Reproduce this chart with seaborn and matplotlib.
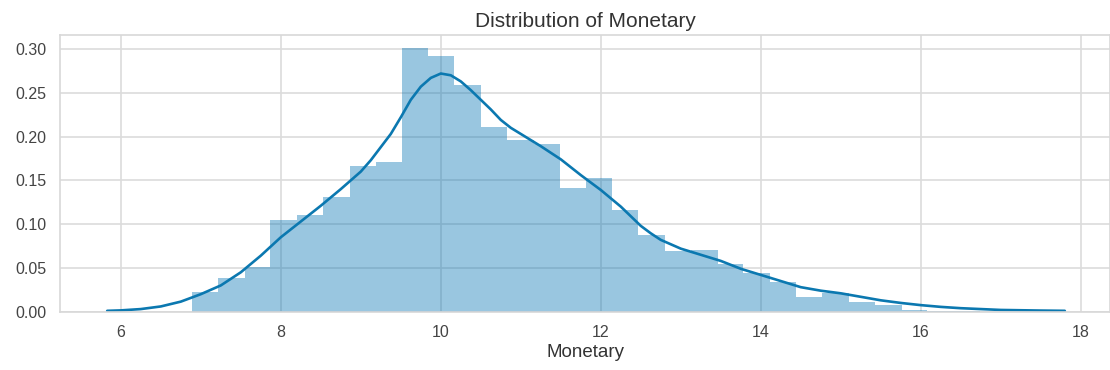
import matplotlib
matplotlib.use("Agg")
import matplotlib.pyplot as plt
import seaborn as sns
import numpy as np
import pandas as pd

# Histogram (density)
bin_edges = [6.89, 7.22, 7.55, 7.87, 8.20, 8.53, 8.86, 9.19, 9.52, 9.84, 10.17,
             10.50, 10.83, 11.16, 11.49, 11.81, 12.14, 12.47, 12.80, 13.13, 13.46,
             13.78, 14.11, 14.44, 14.77, 15.10, 15.43, 15.76, 16.08, 16.41, 16.74]
bin_heights = [0.022, 0.038, 0.051, 0.105, 0.110, 0.131, 0.166, 0.171, 0.301, 0.292,
               0.259, 0.211, 0.196, 0.192, 0.141, 0.153, 0.116, 0.088, 0.069, 0.071,
               0.055, 0.044, 0.034, 0.017, 0.021, 0.011, 0.008, 0.002, 0.001, 0.001]

# KDE curve
kde_x = [5.83, 6.0, 6.25, 6.5, 6.75, 7.0, 7.25, 7.5, 7.75, 8.0, 8.25, 8.5, 8.75,
         8.875, 9.0, 9.125, 9.25, 9.375, 9.5, 9.625, 9.75, 9.875, 10.0, 10.125,
         10.25, 10.375, 10.5, 10.625, 10.75, 10.875, 11.0, 11.25, 11.5, 11.75,
         12.0, 12.25, 12.375, 12.5, 12.625, 12.75, 12.875, 13.0, 13.25, 13.5,
         13.75, 14.0, 14.25, 14.5, 14.75, 15.0, 15.25, 15.5, 15.75, 16.0, 16.25,
         16.5, 17.0, 17.5, 17.8]
kde_y = [0.001, 0.0015, 0.003, 0.006, 0.0115, 0.020, 0.030, 0.045, 0.064, 0.085,
         0.103, 0.121, 0.140, 0.150, 0.160, 0.173, 0.188, 0.203, 0.222, 0.242,
         0.257, 0.267, 0.272, 0.270, 0.263, 0.253, 0.242, 0.231, 0.219, 0.210,
         0.203, 0.189, 0.174, 0.156, 0.139, 0.120, 0.109, 0.098, 0.0895, 0.082,
         0.077, 0.072, 0.065, 0.058, 0.049, 0.042, 0.035, 0.028, 0.024, 0.021,
         0.017, 0.013, 0.010, 0.0075, 0.0055, 0.004, 0.002, 0.0013, 0.001]

title = "Distribution of Monetary"
xlabel = "Monetary"

sns.set_style("whitegrid", {"grid.color": "#dcdcdc", "axes.edgecolor": "#d0d0d0"})
plt.rcParams["font.family"] = ["Liberation Sans", "DejaVu Sans"]

fig = plt.figure(figsize=(11.1, 3.7), dpi=100)
ax = fig.add_axes([60 / 1110, 1 - 311.7 / 370, 1 - 60 / 1110, (311.7 - 35) / 370])

centers = [(a + b) / 2 for a, b in zip(bin_edges[:-1], bin_edges[1:])]
hist_df = pd.DataFrame({"x": centers, "w": bin_heights})
sns.histplot(data=hist_df, x="x", weights="w", bins=bin_edges, stat="count",
             color="#0072B2", alpha=0.4, edgecolor="none", linewidth=0,
             antialiased=False, ax=ax)

kde_df = pd.DataFrame({"x": kde_x, "y": kde_y})
sns.lineplot(data=kde_df, x="x", y="y", color="#0b78b0", linewidth=1.9, ax=ax)

ax.set_xlim(5.24, 18.365)
ax.set_ylim(0, 0.316)
ax.set_xticks([6, 8, 10, 12, 14, 16, 18])
ax.set_yticks([0.0, 0.05, 0.10, 0.15, 0.20, 0.25, 0.30])
ax.set_yticklabels(["0.00", "0.05", "0.10", "0.15", "0.20", "0.25", "0.30"])
ax.tick_params(labelsize=11.5, colors="#333333", pad=6)
for lab in ax.get_xticklabels() + ax.get_yticklabels():
    lab.set_color("#444444")
ax.set_xlabel(xlabel, fontsize=13.5, color="#333333", labelpad=3)
ax.set_ylabel("")
ax.set_title(title, fontsize=15, color="#333333", pad=6)
ax.grid(True, color="#dcdcdc", linewidth=1.2)
for s in ax.spines.values():
    s.set_color("#d8d8d8")
    s.set_linewidth(1.2)

fig.savefig("out.png", dpi=100)
